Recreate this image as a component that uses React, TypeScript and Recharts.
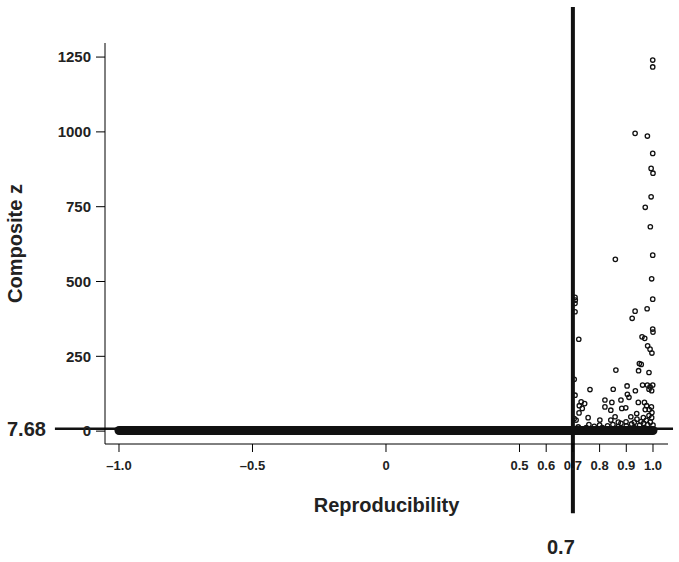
import React from 'react';
import {
  ScatterChart,
  Scatter,
  XAxis,
  YAxis,
  ReferenceLine,
  Label,
} from 'recharts';

// scattered replicates above the noise band (reproducibility, composite z)
const outlierRepro = [
  0.999, 0.999, 0.933, 0.979, 0.999, 0.993, 1.0, 0.993, 0.971, 0.99,
  0.999, 0.859, 0.995, 0.999, 0.708, 0.709, 0.708, 0.708, 0.722, 0.933,
  0.922, 0.978, 0.999, 1.0, 0.959, 0.969, 0.98, 0.989, 0.996, 0.949,
  0.956, 0.861, 0.946, 0.985, 0.705, 0.961, 0.979, 0.999, 0.989, 0.985,
  0.995, 0.903, 0.764, 0.851, 0.934, 0.904, 0.91, 0.708, 0.731, 0.744,
  0.724, 0.735, 0.723, 0.82, 0.82, 0.846, 0.842, 0.88, 0.883, 0.898,
  0.945, 0.968, 0.976, 0.994, 0.971, 0.986, 0.996, 0.757, 0.705, 0.712,
  0.801, 0.842, 0.858, 0.899, 0.917, 0.939, 0.94, 0.964,
];
const outlierZ = [
  1240, 1217, 995, 986, 928, 878, 862, 783, 748, 683,
  588, 574, 509, 441, 447, 438, 427, 399, 307, 401,
  377, 409, 341, 331, 315, 310, 285, 274, 261, 226,
  223, 204, 202, 196, 173, 154, 154, 154, 148, 140,
  135, 151, 139, 140, 135, 123, 113, 120, 98, 92,
  85, 76, 61, 104, 81, 96, 70, 104, 76, 78,
  96, 96, 85, 81, 72, 72, 62, 45, 42, 37,
  37, 37, 48, 31, 48, 59, 40, 45,
];

// low values just above the band, right of the cutoff
const lowRepro = [
  0.72, 0.75, 0.76, 0.78, 0.8, 0.81, 0.83, 0.85, 0.87, 0.87, 0.88, 0.9,
  0.92, 0.93, 0.93, 0.95, 0.955, 0.965, 0.975, 0.98, 0.985, 0.99, 0.995, 1.0,
];
const lowZ = [
  14, 12, 22, 16, 20, 12, 18, 22, 15, 30, 26, 18,
  24, 30, 12, 20, 32, 26, 36, 22, 52, 30, 45, 20,
];

// the dense run of near-zero replicates merges into a solid band
const bandRepro = [-1.0, 1.0];
const bandZ = [2, 2];

const xTicks = [-1.0, -0.5, 0, 0.5, 0.6, 0.7, 0.8, 0.9, 1.0];
const yTicks = [0, 250, 500, 750, 1000, 1250];

const zCutoff = 7.68;
const reproCutoff = 0.7;

const outliers = outlierRepro.map((x, i) => ({ x, y: outlierZ[i] }));
const lows = lowRepro.map((x, i) => ({ x, y: lowZ[i] }));
const band = bandRepro.map((x, i) => ({ x, y: bandZ[i] }));

const FONT = '"Liberation Sans", Arial, Helvetica, sans-serif';
const INK = '#222';

const Ring = (p: any) => (
  <circle cx={p.cx} cy={p.cy} r={2.2} fill="none" stroke="#111" strokeWidth={1.3} />
);

const fmtX = (v: number) => {
  if (v === 0) return '0';
  const s = Math.abs(v).toFixed(1);
  return v < 0 ? `–${s}` : s;
};

const App: React.FC = () => {
  return (
    <div style={{ position: 'absolute', left: 0, top: 0, background: '#fff' }}>
      <ScatterChart
        width={679}
        height={562}
        margin={{ top: 43, right: 11, bottom: 88, left: 45 }}
        style={{ fontFamily: FONT }}
      >
        <XAxis
          type="number"
          dataKey="x"
          domain={[-1.0524, 1.0562]}
          ticks={xTicks}
          interval={0}
          tickFormatter={fmtX}
          height={30}
          tickSize={8}
          tickMargin={9}
          stroke="#000"
          tick={{ fill: INK, fontSize: 13, fontWeight: 'bold' }}
          allowDataOverflow
        >
          <Label
            value="Reproducibility"
            position="bottom"
            offset={24}
            fill={INK}
            fontSize={20}
            fontWeight="bold"
          />
        </XAxis>
        <YAxis
          type="number"
          dataKey="y"
          domain={[-43, 1297]}
          ticks={yTicks}
          interval={0}
          width={60}
          tickSize={9}
          tickMargin={5}
          stroke="#000"
          tick={{ fill: INK, fontSize: 15, fontWeight: 'bold' }}
          allowDataOverflow
        >
          <Label
            value="Composite z"
            angle={-90}
            position="insideLeft"
            offset={-30}
            fill={INK}
            fontSize={20}
            fontWeight="bold"
            style={{ textAnchor: 'middle' }}
          />
        </YAxis>
        <Scatter
          data={band}
          isAnimationActive={false}
          shape={() => <g />}
          line={{ stroke: '#111', strokeWidth: 9, strokeLinecap: 'round' }}
        />
        <Scatter data={lows} isAnimationActive={false} shape={Ring} />
        <Scatter data={outliers} isAnimationActive={false} shape={Ring} />
        <ReferenceLine
          segment={[
            { x: -1.24, y: zCutoff },
            { x: 1.075, y: zCutoff },
          ]}
          ifOverflow="visible"
          stroke="#111"
          strokeWidth={2.5}
          label={{
            value: '7.68',
            position: 'left',
            offset: 9,
            fill: INK,
            fontSize: 20,
            fontWeight: 'bold',
          }}
        />
        <ReferenceLine
          segment={[
            { x: reproCutoff, y: 1417 },
            { x: reproCutoff, y: -274 },
          ]}
          ifOverflow="visible"
          stroke="#111"
          strokeWidth={4}
          label={{
            value: '0.7',
            position: 'bottom',
            offset: 27,
            dx: -12,
            fill: INK,
            fontSize: 20,
            fontWeight: 'bold',
          }}
        />
      </ScatterChart>
    </div>
  );
};

export default App;
